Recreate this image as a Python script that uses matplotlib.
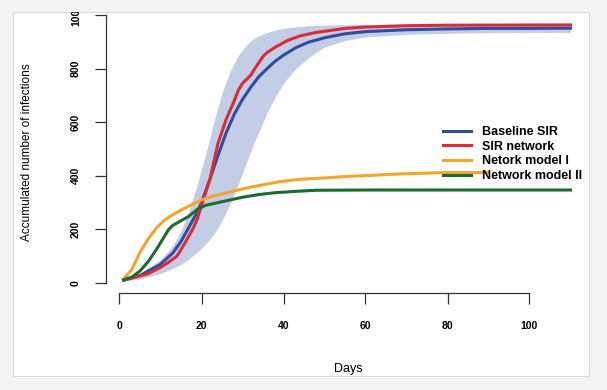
import matplotlib
matplotlib.use('Agg')
import matplotlib.pyplot as plt
from matplotlib.patches import Rectangle

# values
blue_days = [1, 5, 10, 13, 15, 17, 19, 20, 22, 24, 26, 28, 30, 32, 34, 36, 38, 40, 43, 46, 50, 55, 60, 70, 80, 90, 100, 110]
blue_vals = [10, 28, 70, 112, 155, 210, 265, 300, 385, 475, 560, 630, 685, 730, 770, 800, 828, 850, 878, 898, 915, 930, 938, 945, 948, 950, 950, 951]

red_days = [1, 4, 7, 10, 12, 14, 16, 18, 19, 20, 22, 24, 26, 28, 29, 30, 31, 32, 33, 35, 36, 38, 41, 44, 48, 55, 60, 70, 80, 110]
red_vals = [12, 22, 35, 58, 78, 100, 150, 205, 240, 290, 384, 520, 610, 680, 720, 745, 760, 775, 800, 845, 860, 880, 905, 922, 935, 950, 955, 960, 962, 963]

orange_days = [1, 3, 5, 7, 9, 11, 13, 15, 18, 20, 23, 27, 32, 39, 44, 50, 56, 62, 68, 75, 80, 90]
orange_vals = [15, 50, 115, 165, 205, 235, 255, 272, 295, 310, 325, 340, 358, 378, 387, 392, 398, 402, 407, 410, 412, 412]

green_days = [1, 3, 5, 7, 9, 11, 12, 13, 15, 17, 19, 21, 24, 27, 30, 34, 38, 43, 48, 60, 80, 110]
green_vals = [12, 22, 45, 80, 125, 175, 200, 215, 232, 250, 275, 290, 300, 310, 320, 330, 337, 342, 346, 347, 347, 347]

band_days = [1, 5, 10, 13, 15, 17, 19, 21, 23, 25, 27, 29, 31, 33, 36, 38, 40, 43, 46, 50, 55, 60, 70, 80, 90, 110]
band_upper = [12, 35, 88, 140, 195, 270, 370, 480, 600, 710, 790, 850, 890, 915, 935, 944, 950, 956, 960, 962, 964, 965, 966, 966, 966, 966]
band_lower = [8, 15, 35, 55, 70, 90, 115, 145, 182, 232, 295, 370, 450, 530, 635, 695, 745, 800, 840, 880, 905, 918, 928, 932, 934, 935]

labels = ['Baseline SIR', 'SIR network', 'Netork model I', 'Network model II']
colors = ['#2f4c9f', '#dc2a36', '#f2a62a', '#1f6a30']
x_ticks = [0, 20, 40, 60, 80, 100]
y_ticks = [0, 200, 400, 600, 800, 1000]

plt.rcParams['font.family'] = ['Liberation Sans', 'DejaVu Sans']

W, H = 607, 390
fig = plt.figure(figsize=(W / 100, H / 100), dpi=100)
fig.patch.set_facecolor('#f4f4f4')

# white panel of the screenshot
fig.patches.append(Rectangle((13 / W, 1 - 376 / H), 576 / W, 364 / H, transform=fig.transFigure,
                             facecolor='white', edgecolor='#d8d8d8', lw=0.8, zorder=-1))

ax = fig.add_axes([100 / W, 1 - 300 / H, 480 / W, 292 / H])
ax.patch.set_alpha(0)
ax.set_xlim((100 - 119.5) / 4.1, (580 - 119.5) / 4.1)
ax.set_ylim((283 - 300) / 0.268, (283 - 8) / 0.268)

ax.fill_between(band_days, band_lower, band_upper, color='#c3cde6', lw=0)
ax.plot(blue_days, blue_vals, color=colors[0], lw=2.2, label=labels[0])
ax.plot(red_days, red_vals, color=colors[1], lw=2.2, label=labels[1])
ax.plot(orange_days, orange_vals, color=colors[2], lw=2.2, label=labels[2])
ax.plot(green_days, green_vals, color=colors[3], lw=2.2, label=labels[3])

#Оси в стиле R
for s in ['top', 'right']:
    ax.spines[s].set_visible(False)
ax.spines['left'].set_position(('data', (106 - 119.5) / 4.1))
ax.spines['left'].set_bounds(0, 1000)
ax.spines['bottom'].set_position(('data', (283 - 293) / 0.268))
ax.spines['bottom'].set_bounds(0, 100)
for s in ['left', 'bottom']:
    ax.spines[s].set_color('#333333')
    ax.spines[s].set_linewidth(0.9)

ax.set_xticks(x_ticks)
ax.set_yticks(y_ticks)
ax.tick_params(axis='both', direction='out', length=8, width=0.9, color='#333333', labelsize=7.5)
ax.tick_params(axis='x', pad=12)
ax.tick_params(axis='y', pad=10)
for t in ax.get_yticklabels():
    t.set_rotation(90)
    t.set_va('center')
for t in ax.get_xticklabels() + ax.get_yticklabels():
    t.set_fontweight('bold')

fig.text(27 / W, 1 - 152 / H, 'Accumulated number of infections', rotation=90,
         ha='center', va='center', fontsize=8.5)
fig.text(348 / W, 1 - 369 / H, 'Days', ha='center', va='center', fontsize=9)

ax.legend(loc='upper left', bbox_to_anchor=(443 / W, 1 - 126 / H), bbox_transform=fig.transFigure,
          frameon=False, borderpad=0, borderaxespad=0, handlelength=2.2, handletextpad=0.9,
          labelspacing=0.22, prop={'weight': 'bold', 'size': 9})

# верхняя серая полоса обрезает подпись 1000, как на скриншоте
fig.patches.append(Rectangle((0, 1 - 12 / H), 1, 12 / H, transform=fig.transFigure,
                             facecolor='#f4f4f4', edgecolor='none', zorder=10))

fig.savefig('out.png', dpi=100, facecolor=fig.get_facecolor())
